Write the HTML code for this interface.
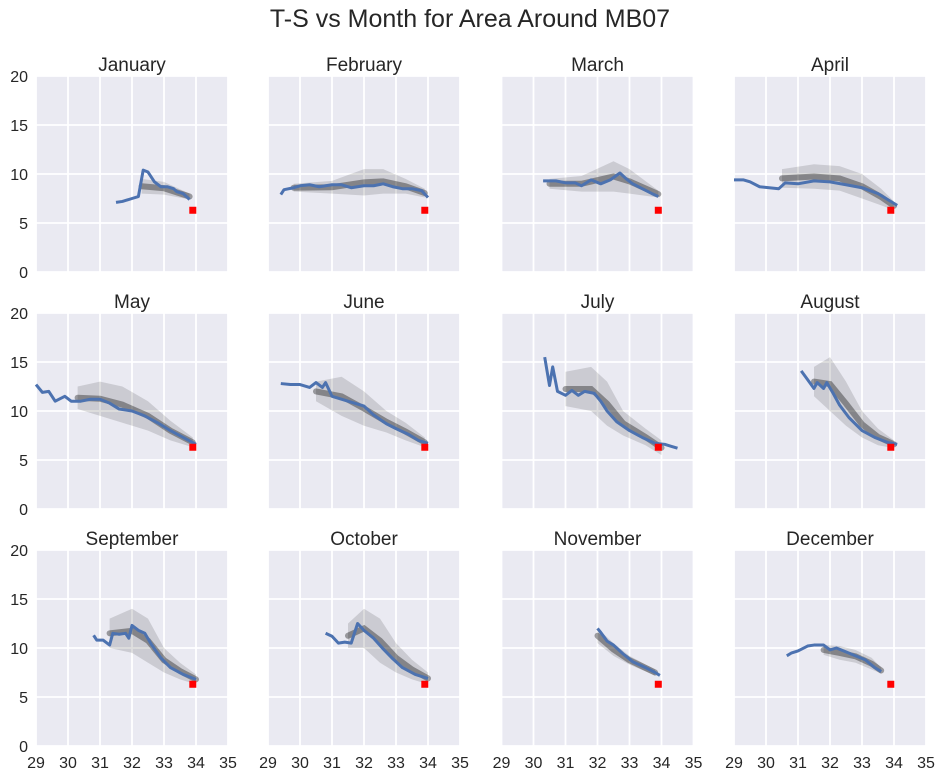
<!DOCTYPE html>
<html><head><meta charset="utf-8"><style>
body{margin:0;background:#fff;font-family:"Liberation Sans",sans-serif}
svg text{font-family:"Liberation Sans",sans-serif;fill:#262626}
</style></head><body>
<svg id="chart" width="943" height="779" xmlns="http://www.w3.org/2000/svg">
<text x="470" y="27" font-size="25" text-anchor="middle">T-S vs Month for Area Around MB07</text>
<g id="panels"></g>
</svg>
<script>
const months=["January","February","March","April","May","June","July","August","September","October","November","December"];
const xTicks=[29,30,31,32,33,34,35];
const yTicks=[0,5,10,15,20];
const refPoint=[33.9,6.3];
const meanJan=[[31.5,7.1],[31.7,7.2],[32.0,7.5],[32.2,7.7],[32.35,10.4],[32.5,10.2],[32.7,9.2],[32.9,8.7],[33.1,8.7],[33.3,8.5],[33.4,8.2],[33.6,8.0],[33.8,7.4]];
const meanFeb=[[29.4,7.9],[29.5,8.4],[29.8,8.6],[30.0,8.8],[30.3,8.9],[30.6,8.7],[31.0,8.9],[31.3,8.9],[31.6,8.6],[32.0,8.8],[32.3,8.8],[32.6,9.0],[32.9,8.7],[33.2,8.5],[33.5,8.5],[33.8,8.3],[34.0,7.6]];
const meanMar=[[30.3,9.3],[30.7,9.3],[31.0,9.1],[31.3,9.1],[31.5,8.8],[31.8,9.4],[32.1,9.0],[32.4,9.4],[32.7,10.1],[32.9,9.5],[33.1,9.0],[33.4,8.5],[33.7,8.0],[33.9,7.7]];
const meanApr=[[29.0,9.4],[29.3,9.4],[29.5,9.2],[29.8,8.7],[30.1,8.6],[30.4,8.5],[30.6,9.1],[31.0,9.0],[31.5,9.3],[32.0,9.2],[32.5,8.9],[33.0,8.6],[33.5,8.0],[33.8,7.4],[34.1,6.8]];
const meanMay=[[29.0,12.7],[29.2,11.9],[29.4,12.0],[29.6,11.0],[29.9,11.5],[30.1,11.0],[30.4,11.0],[30.7,11.2],[31.0,11.2],[31.3,10.8],[31.6,10.2],[32.0,10.0],[32.4,9.5],[32.8,8.8],[33.2,8.0],[33.6,7.3],[34.0,6.6]];
const meanJun=[[29.4,12.8],[29.7,12.7],[30.0,12.7],[30.3,12.4],[30.5,12.9],[30.7,12.4],[30.8,12.9],[31.0,11.5],[31.5,11.0],[32.0,10.5],[32.3,9.6],[32.7,8.7],[33.0,8.2],[33.4,7.6],[33.7,7.0],[34.0,6.7]];
const meanJul=[[30.35,15.5],[30.5,12.6],[30.6,14.5],[30.75,12.0],[31.0,11.6],[31.2,12.1],[31.4,11.6],[31.6,12.0],[31.9,11.8],[32.1,11.0],[32.3,10.0],[32.6,8.9],[33.0,8.0],[33.4,7.3],[33.8,6.7],[34.1,6.6],[34.3,6.4],[34.5,6.2]];
const meanAug=[[31.1,14.1],[31.3,13.2],[31.5,12.3],[31.6,12.9],[31.8,12.3],[31.9,12.9],[32.1,11.8],[32.3,10.6],[32.6,9.3],[33.0,8.0],[33.4,7.3],[33.8,6.8],[34.1,6.6]];
const meanSep=[[30.8,11.3],[30.9,10.8],[31.1,10.8],[31.3,10.3],[31.4,11.5],[31.6,11.4],[31.8,11.5],[31.9,11.0],[32.0,12.3],[32.2,11.8],[32.4,11.5],[32.6,10.4],[32.9,9.0],[33.2,8.0],[33.6,7.3],[34.0,6.8]];
const meanOct=[[30.8,11.5],[31.0,11.2],[31.2,10.5],[31.4,10.6],[31.6,10.5],[31.8,12.5],[32.0,11.8],[32.3,11.0],[32.6,9.9],[32.9,8.9],[33.2,8.0],[33.6,7.3],[34.0,6.9]];
const meanNov=[[32.0,12.0],[32.1,11.6],[32.3,10.7],[32.5,10.3],[32.8,9.4],[33.1,8.6],[33.5,8.0],[33.8,7.5],[33.95,7.2]];
const meanDec=[[30.65,9.2],[30.8,9.5],[31.0,9.7],[31.3,10.2],[31.5,10.3],[31.8,10.3],[32.0,9.8],[32.2,10.0],[32.5,9.6],[32.8,9.2],[33.1,8.8],[33.4,8.0],[33.6,7.6]];
const cloudJan=[[32.3,8.0,9.5],[33.0,7.9,9.2],[33.8,7.4,8.0]];
const cloudFeb=[[29.8,8.2,9.0],[31.0,8.0,9.3],[32.0,7.8,10.5],[32.6,8.0,10.5],[33.3,8.0,9.5],[33.9,7.6,8.5]];
const cloudMar=[[30.5,8.5,9.5],[31.5,8.2,9.8],[32.5,8.2,11.3],[33.0,8.0,10.5],[33.9,7.6,8.3]];
const cloudApr=[[30.5,8.6,10.5],[31.5,8.5,11.0],[32.3,8.3,10.8],[33.0,7.5,10.0],[33.6,6.8,8.5],[34.0,6.3,7.2]];
const cloudMay=[[30.3,10.2,12.5],[31.0,9.5,13.0],[31.7,8.8,12.5],[32.5,8.0,11.0],[33.2,7.0,9.0],[33.9,6.3,7.3]];
const cloudJun=[[30.5,11.0,13.0],[31.3,9.5,13.5],[32.0,8.5,12.0],[32.7,7.8,10.0],[33.3,7.0,8.8],[33.9,6.3,7.3]];
const cloudJul=[[31.0,10.5,14.0],[31.8,10.0,14.5],[32.3,8.5,13.0],[32.8,7.5,10.0],[33.5,6.5,8.2],[34.0,5.5,7.0]];
const cloudAug=[[31.5,11.5,14.5],[32.0,10.0,15.5],[32.5,8.5,13.0],[33.0,7.3,10.0],[33.5,6.5,8.2],[34.0,6.2,7.0]];
const cloudSep=[[31.3,10.0,13.0],[32.0,9.5,14.0],[32.5,8.5,13.0],[33.0,7.5,10.0],[33.5,6.8,8.5],[34.0,6.3,7.3]];
const cloudOct=[[31.5,10.0,12.5],[32.0,10.0,14.0],[32.5,8.5,13.0],[33.0,7.5,10.5],[33.5,6.8,8.8],[34.0,6.3,7.5]];
const cloudNov=[[32.0,10.5,12.0],[32.5,9.2,10.5],[33.0,8.3,9.2],[33.8,7.2,7.8]];
const cloudDec=[[31.8,9.3,10.3],[32.3,8.8,10.2],[32.8,8.5,9.8],[33.3,7.8,9.0],[33.6,7.4,8.0]];
const means=[meanJan,meanFeb,meanMar,meanApr,meanMay,meanJun,meanJul,meanAug,meanSep,meanOct,meanNov,meanDec];
const clouds=[cloudJan,cloudFeb,cloudMar,cloudApr,cloudMay,cloudJun,cloudJul,cloudAug,cloudSep,cloudOct,cloudNov,cloudDec];

const NS="http://www.w3.org/2000/svg";
const colX=[36,268,501.5,734],rowY=[76,313,550],W=192,H=196;
const root=document.getElementById('panels');
function mk(t,a,p){const e=document.createElementNS(NS,t);for(const k in a)e.setAttribute(k,a[k]);p.appendChild(e);return e;}
months.forEach((m,i)=>{
  const c=i%4,r=Math.floor(i/4),x0=colX[c],y0=rowY[r];
  const sx=v=>x0+(v-29)/6*W, sy=v=>y0+H-v/20*H;
  const g=mk('g',{},root);
  
  
  const bg=mk('rect',{x:x0,y:y0,width:W,height:H,fill:'#EAEAF2'},g);
  
  
  xTicks.forEach(v=>{const l=mk('line',{x1:sx(v),x2:sx(v),y1:y0,y2:y0+H,stroke:'#fff','stroke-width':1.8},g);
    
    if(r===2){const t=mk('text',{x:sx(v),y:y0+H+22,'font-size':16,'text-anchor':'middle'},g);t.textContent=v;
      }});
  yTicks.forEach(v=>{const l=mk('line',{x1:x0,x2:x0+W,y1:sy(v),y2:sy(v),stroke:'#fff','stroke-width':1.8},g);
    
    if(c===0){const t=mk('text',{x:x0-8,y:sy(v)+6,'font-size':16,'text-anchor':'end'},g);t.textContent=v;
      }});
  const tt=mk('text',{x:x0+W/2,y:y0-5,'font-size':19,'text-anchor':'middle'},g);tt.textContent=m;
  
  const cl=clouds[i];
  const pts=cl.map(d=>sx(d[0])+','+sy(d[2])).concat(cl.slice().reverse().map(d=>sx(d[0])+','+sy(d[1])));
  const poly=mk('polygon',{points:pts.join(' '),fill:'#000','fill-opacity':0.13,stroke:'none'},g);
  
  const inner=mk('polyline',{points:cl.map(d=>sx(d[0])+','+sy((d[1]+d[2])/2)).join(' '),fill:'none',stroke:'#000','stroke-opacity':0.35,'stroke-width':6,'stroke-linecap':'round'},g);
  
  const ml=mk('polyline',{points:means[i].map(d=>sx(d[0])+','+sy(d[1])).join(' '),fill:'none',stroke:'#4C72B0','stroke-width':3,'stroke-linejoin':'round'},g);
  
  const rp=mk('rect',{x:sx(refPoint[0])-3.5,y:sy(refPoint[1])-3.5,width:7,height:7,fill:'#f00'},g);
  
});
</script>
</body></html>
